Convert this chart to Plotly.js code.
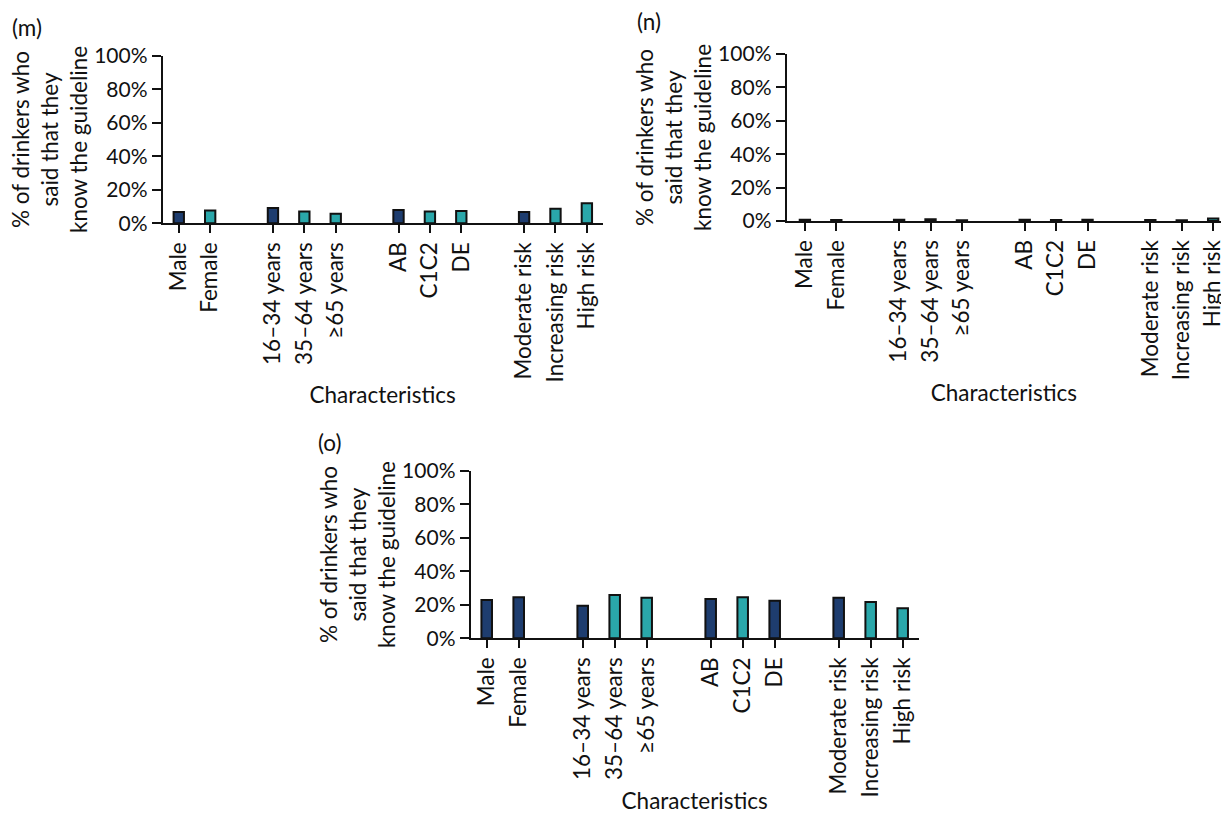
<!DOCTYPE html>
<html>
<head>
<meta charset="utf-8">
<script src="https://cdn.plot.ly/plotly-3.0.1.min.js"></script>
<style>html,body{margin:0;padding:0;background:#fff;}#chart{width:1221px;height:814px;}</style>
</head>
<body>
<div id="chart"></div>
<script>
// Category groups (a gap separates groups on the axis)
const groups = [
  ["Male", "Female"],
  ["16–34 years", "35–64 years", "≥65 years"],
  ["AB", "C1C2", "DE"],
  ["Moderate risk", "Increasing risk", "High risk"]
];
const categories = groups.flat();

// Panel values (% of drinkers who said that they know the guideline)
const valuesM = [6.7, 7.7, 9.1, 7.1, 5.7, 7.9, 7.1, 7.3, 6.7, 8.7, 11.9];
const valuesN = [0.8, 0.6, 0.8, 1.0, 0.5, 0.8, 0.6, 0.8, 0.6, 0.5, 1.5];
const valuesO = [22.9, 24.5, 19.5, 25.8, 24.2, 23.5, 24.5, 22.5, 24.2, 21.7, 17.9];

// Colour class per bar: 0 = dark navy, 1 = teal
const shadeM = [0, 1, 0, 1, 1, 0, 1, 1, 0, 1, 1];
const shadeN = [0, 1, 0, 1, 1, 0, 1, 1, 0, 1, 1];
const shadeO = [0, 0, 0, 1, 1, 0, 1, 0, 0, 1, 1];

const yTicks = [0, 20, 40, 60, 80, 100];
const panelLabels = ["(m)", "(n)", "(o)"];

const palette = ["#1e3d6f", "#2aa7aa"];
const FONT = "Lato, 'Open Sans', sans-serif";
const TXT = 22.5;

// positions derived from group structure (one empty slot between groups)
const xpos = [];
let p = 0;
groups.forEach((g) => {
  g.forEach(() => { xpos.push(p); p++; });
  p++;
});

function trace(vals, shade, xa, ya) {
  return {
    type: "bar",
    x: xpos,
    y: vals,
    xaxis: xa,
    yaxis: ya,
    width: 0.33,
    marker: {color: shade.map(s => palette[s]), line: {color: "#111", width: 2}},
    hoverinfo: "skip",
    showlegend: false
  };
}

function xaxis(domain, range, anchor) {
  return {
    domain: domain, range: range, anchor: anchor,
    tickmode: "array", tickvals: xpos, ticktext: categories,
    tickangle: -90, ticks: "outside", ticklen: 8, tickwidth: 2, tickcolor: "#111",
    ticklabeloverflow: "allow",
    showline: true, linecolor: "#111", linewidth: 2,
    showgrid: false, zeroline: false,
    tickfont: {family: FONT, size: TXT, color: "#111"},
    title: {text: "Characteristics", font: {family: FONT, size: TXT, color: "#111"}, standoff: 6},
    fixedrange: true
  };
}
function yaxis(domain, anchor) {
  return {
    domain: domain, range: [0, 100], anchor: anchor,
    tickmode: "array", tickvals: yTicks, ticktext: yTicks.map(v => v + "%"),
    ticks: "outside", ticklen: 9, tickwidth: 2, tickcolor: "#111",
    showline: true, linecolor: "#111", linewidth: 2,
    showgrid: false, zeroline: false,
    tickfont: {family: FONT, size: 21, color: "#111"},
    title: {text: "% of drinkers who<br>said that they<br>know the guideline", font: {family: FONT, size: TXT, color: "#111"}, standoff: 0},
    fixedrange: true
  };
}

const data = [
  trace(valuesM, shadeM, "x", "y"),
  trace(valuesN, shadeN, "x2", "y2"),
  trace(valuesO, shadeO, "x3", "y3")
];

const layout = {
  width: 1221, height: 814,
  margin: {l: 0, r: 0, t: 0, b: 0},
  paper_bgcolor: "#fff", plot_bgcolor: "#fff",
  font: {family: FONT, size: TXT, color: "#111"},
  bargap: 0,
  xaxis: xaxis([0.1333, 0.4935], [-0.51, 13.5], "y"),
  yaxis: yaxis([0.7257, 0.9316], "x"),
  xaxis2: xaxis([0.6443, 1.0], [-0.58, 13.25], "y2"),
  yaxis2: yaxis([0.7285, 0.9337], "x2"),
  xaxis3: xaxis([0.3855, 0.7524], [-0.5, 13.5], "y3"),
  yaxis3: yaxis([0.2158, 0.4217], "x3"),
  annotations: [
    {text: panelLabels[0], xref: "paper", yref: "paper", x: 0.008, y: 0.966, xanchor: "left", yanchor: "middle", showarrow: false, font: {family: FONT, size: TXT, color: "#111"}},
    {text: panelLabels[1], xref: "paper", yref: "paper", x: 0.520, y: 0.973, xanchor: "left", yanchor: "middle", showarrow: false, font: {family: FONT, size: TXT, color: "#111"}},
    {text: panelLabels[2], xref: "paper", yref: "paper", x: 0.259, y: 0.456, xanchor: "left", yanchor: "middle", showarrow: false, font: {family: FONT, size: TXT, color: "#111"}}
  ]
};

Plotly.newPlot("chart", data, layout, {staticPlot: true, displayModeBar: false});
</script>
</body>
</html>
